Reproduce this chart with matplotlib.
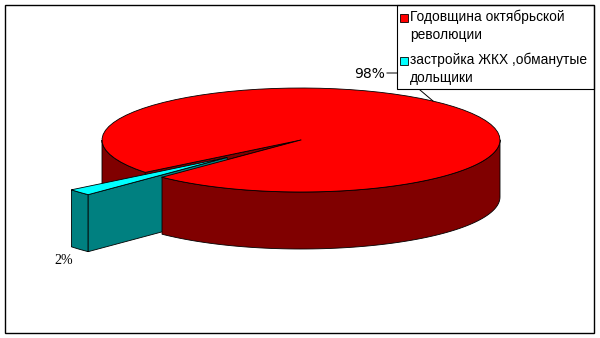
import matplotlib.pyplot as plt
import numpy as np
from matplotlib.patches import Polygon, Rectangle

labels = ["Годовщина октябрьской\nреволюции", "застройка ЖКХ ,обманутые\nдольщики"]
values = [98, 2]
top_colors = ["#ff0000", "#00ffff"]
side_colors = ["#800000", "#008080"]
explode = [0.0, 0.5]

# geometry of the projected pie (pixel units)
cx, cy = 301, 140
ra, rb = 199, 52
depth = 57
start = 141.5

fig = plt.figure(figsize=(6, 3.38), dpi=100)
ax = fig.add_axes([0, 0, 1, 1])
ax.set_xlim(0, 600)
ax.set_ylim(338, 0)
ax.axis("off")

fracs = np.array(values) / np.sum(values)
edges = start + 360 * np.concatenate([[0], np.cumsum(fracs)])


def offset(i):
    mid = np.radians((edges[i] + edges[i + 1]) / 2)
    return explode[i] * ra * np.cos(mid), explode[i] * rb * np.sin(mid)


def arc(t0, t1, off=(0, 0), z=0, n=80):
    t = np.radians(np.linspace(t0, t1, n))
    return np.column_stack([cx + off[0] + ra * np.cos(t), cy + off[1] + rb * np.sin(t) + z])


def wall(t0, t1, col, off=(0, 0), z=1):
    pts = np.vstack([arc(t0, t1, off), arc(t0, t1, off, depth)[::-1]])
    ax.add_patch(Polygon(pts, closed=True, fc=col, ec="black", lw=0.6, zorder=z))


def cut(t, col, off=(0, 0), z=1):
    c = (cx + off[0], cy + off[1])
    p = arc(t, t, off, n=1)[0]
    pts = [c, p, (p[0], p[1] + depth), (c[0], c[1] + depth)]
    ax.add_patch(Polygon(pts, closed=True, fc=col, ec="black", lw=0.6, zorder=z))


def top(t0, t1, col, off=(0, 0), z=1, ec="black"):
    pts = np.vstack([[cx + off[0], cy + off[1]], arc(t0, t1, off)])
    ax.add_patch(Polygon(pts, closed=True, fc=col, ec=ec, lw=0.6, zorder=z))


# big slice, parts lying behind the exploded one
a0, a1 = edges[0], edges[1]
wall(a0, 180, side_colors[0], z=1)
cut(a0, side_colors[0], z=2)
top(a0, a1, top_colors[0], z=3)

# exploded small slice
b0, b1 = edges[1], edges[2]
off = offset(1)
wall(b0 % 360, b1 % 360, side_colors[1], off, z=4)
cut(b0, side_colors[1], off, z=5)
top(b0, b1, top_colors[1], off, z=6)

# big slice, parts in front of the exploded one
wall(360, a1, side_colors[0], z=7)
top(360, a1, top_colors[0], z=8, ec="none")
front = arc(360, a1)
ax.plot(front[:, 0], front[:, 1], color="black", lw=0.6, zorder=9)
pe = arc(a1, a1, n=1)[0]
ax.plot([cx, pe[0]], [cy, pe[1]], color="black", lw=0.6, zorder=9)

# data labels
pcts = [f"{v}%" for v in values]
anchor = arc(311.6, 311.6, n=1)[0]
ax.plot([387, 400, anchor[0]], [73, 73, anchor[1]], color="black", lw=0.7, zorder=10)
ax.text(385, 74, pcts[0], ha="right", va="center", fontsize=10,
        family="DejaVu Sans", zorder=11)
ax.text(64, 261, pcts[1], ha="center", va="center", fontsize=10,
        family="Liberation Serif", zorder=11)

# legend
ax.add_patch(Rectangle((397, 5), 197, 84, fc="white", ec="black", lw=0.8, zorder=12))
for i, lab in enumerate(labels):
    y = 18 + i * 43
    ax.add_patch(Rectangle((400, y - 4), 8, 8, fc=top_colors[i], ec="black", lw=0.6, zorder=13))
    ax.text(410, y - 8, lab, ha="left", va="top", fontsize=9.9, linespacing=1.35,
            family="Liberation Sans", zorder=13)

# chart area border
ax.add_patch(Rectangle((5, 5), 589, 328, fc="none", ec="black", lw=1.0, zorder=14))

fig.savefig("out.png", dpi=100)
